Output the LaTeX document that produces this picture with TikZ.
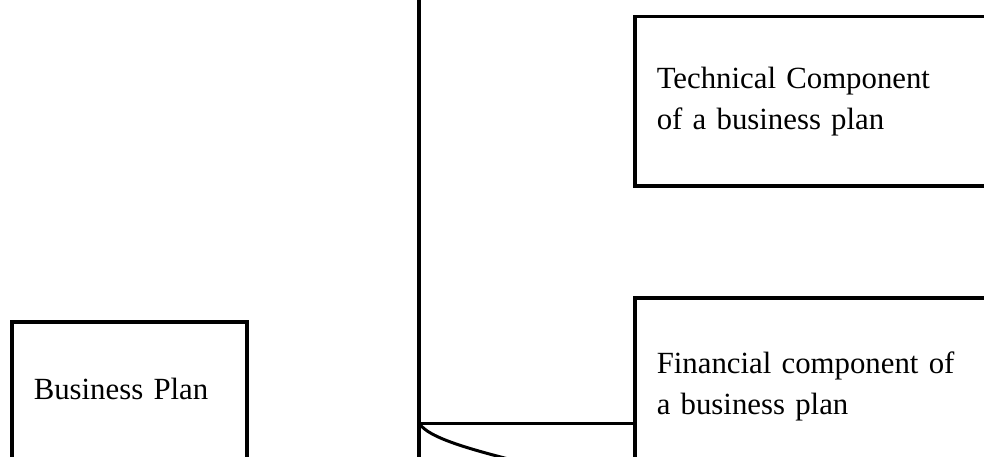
\documentclass[tikz,border=0pt]{standalone}
\usepackage{fontspec}
\setmainfont{Liberation Serif}
\usepackage{tikz}
\usetikzlibrary{positioning}

\begin{document}
\begin{tikzpicture}[
    x=1pt, y=1pt,
    box/.style={draw, rectangle, line width=3.5pt, anchor=north west, align=left, inner xsep=22pt, inner ysep=0pt, font=\fontsize{30.8}{41}\selectfont},
    link/.style={line width=3.5pt}
]
\path[use as bounding box, clip] (0,0) rectangle (984,456);

\node (plan) [box, text width=191pt, minimum height=160pt, text height=21pt, text depth=25pt] at (10,136) {Business Plan};
\node (tech) [box, text width=333pt, minimum height=169pt] at (633,441) {Technical Component\\of a business plan};
\node (fin) [box, text width=333pt, minimum height=178pt] at (633,160) {Financial component of\\a business plan};

\coordinate (spinetop) at (419,470);
\coordinate (spinebot) at (419,-20);
\coordinate (junc) at (419,33);
\coordinate (curveend) at (545,-12);

\draw [link] (spinetop) -- (spinebot);
\draw [link, line width=3pt] (junc) -- (junc -| fin.west);
\draw [link, line width=3pt] (junc) .. controls (428,18) and (470,6) .. (curveend);

\end{tikzpicture}
\end{document}
